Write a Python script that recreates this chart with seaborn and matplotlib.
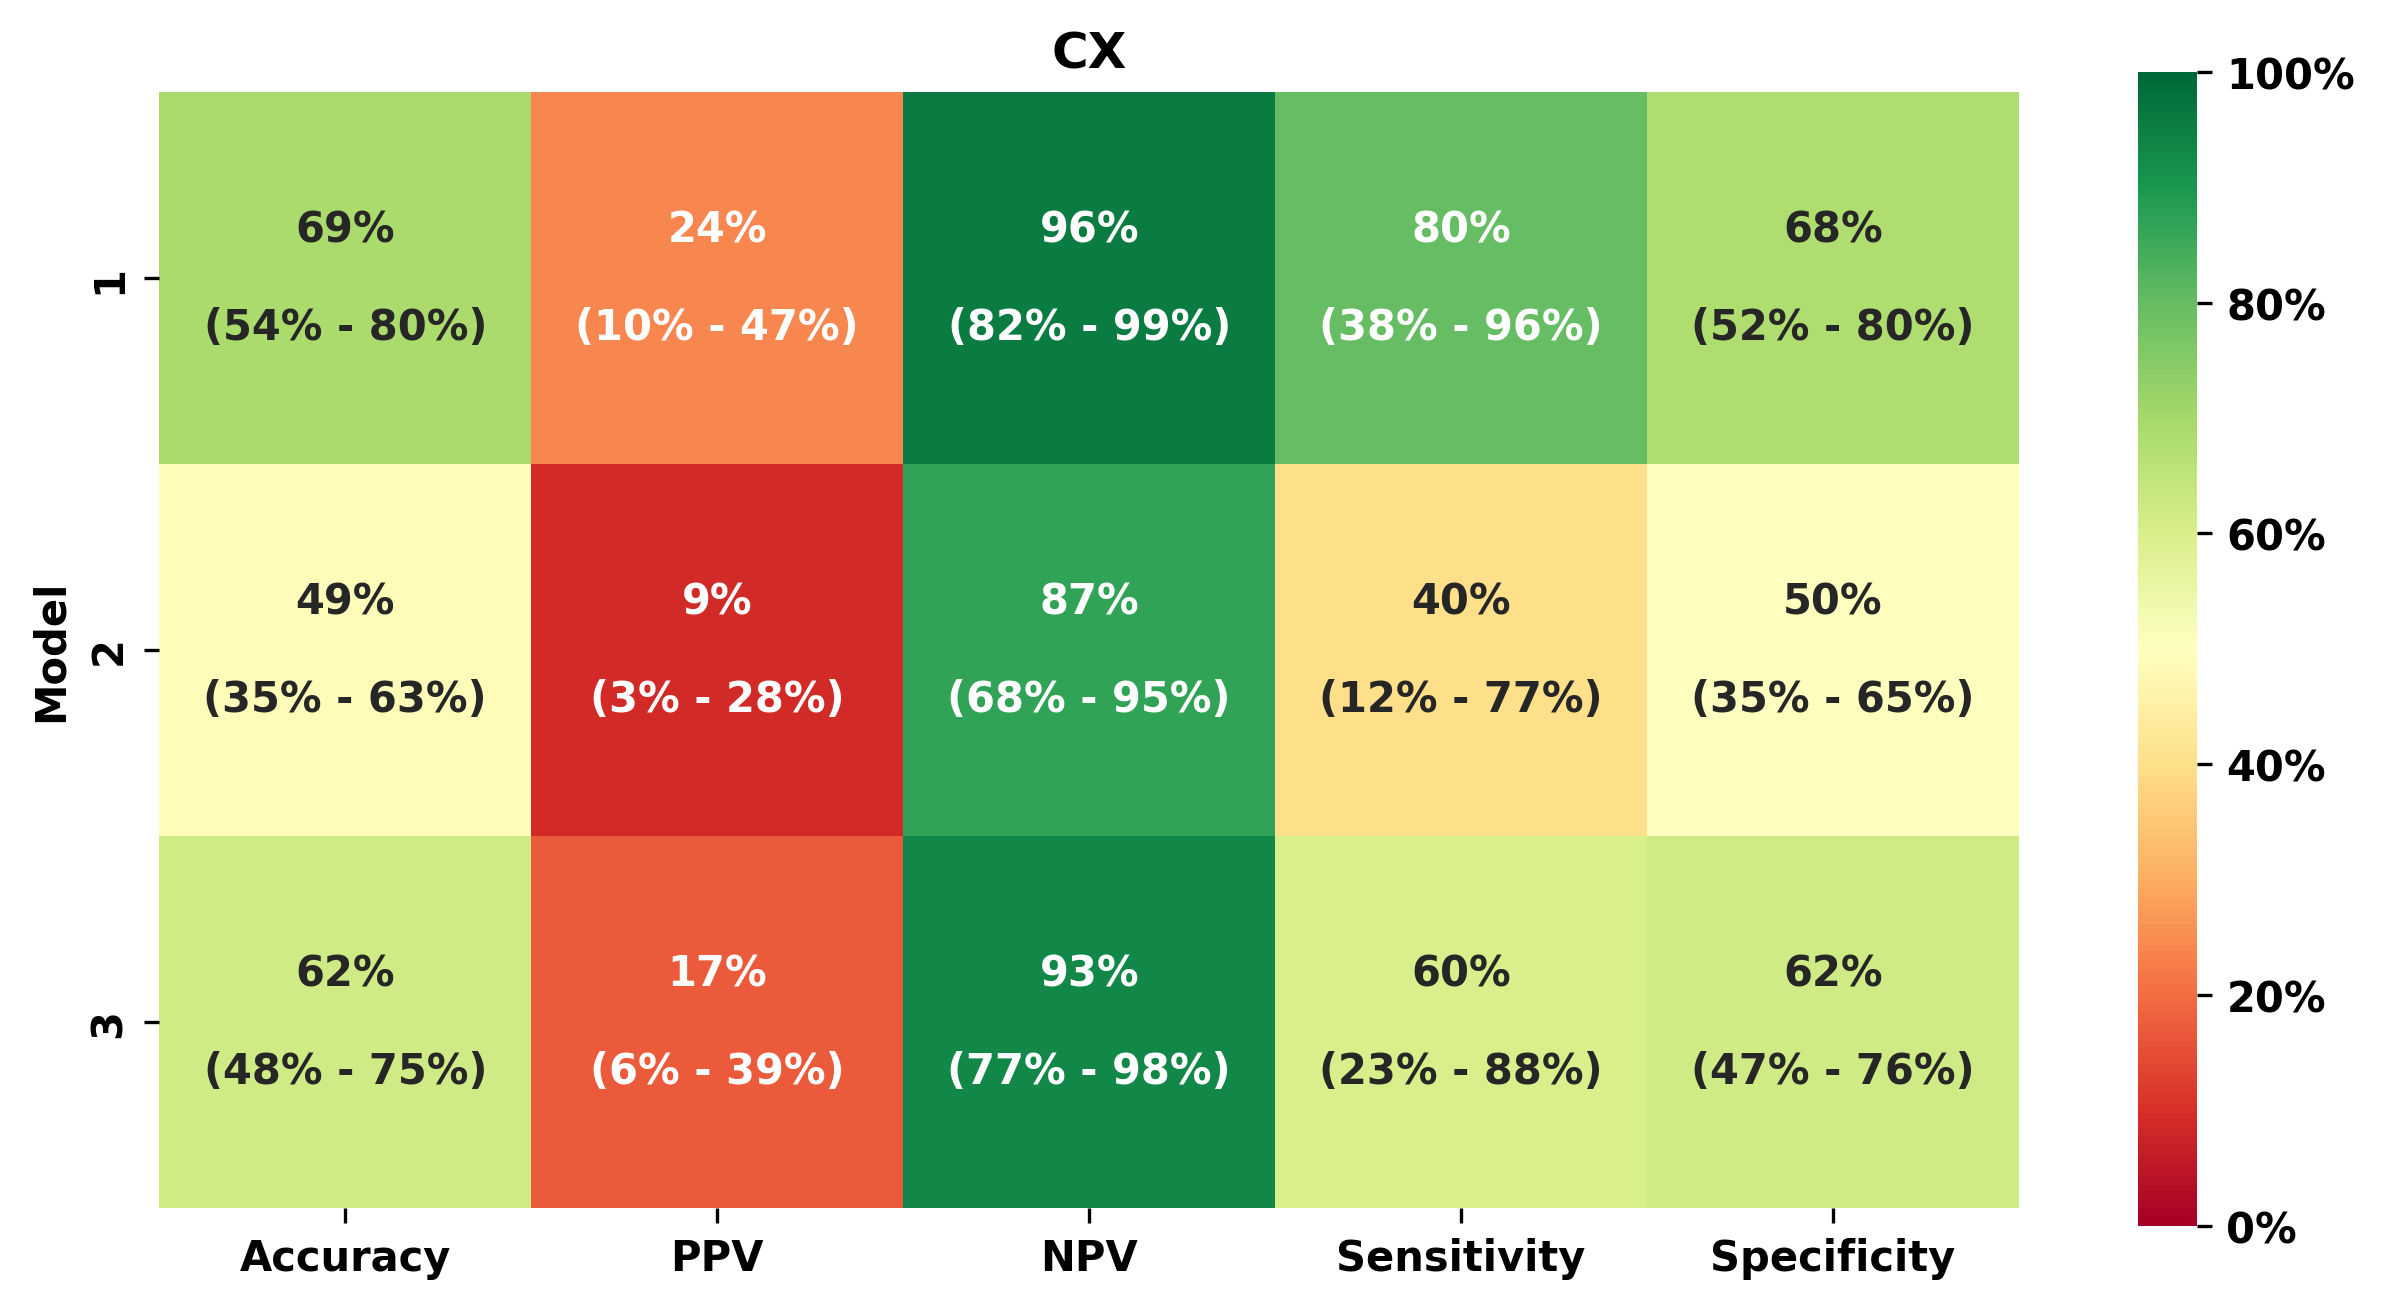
import numpy as np
import pandas as pd
import matplotlib
matplotlib.use("Agg")
import matplotlib.pyplot as plt
import seaborn as sns

metrics = ["Accuracy", "PPV", "NPV", "Sensitivity", "Specificity"]
models = ["1", "2", "3"]

# point estimates (%)
accuracy = [69, 49, 62]
ppv = [24, 9, 17]
npv = [96, 87, 93]
sensitivity = [80, 40, 60]
specificity = [68, 50, 62]

# confidence intervals (%)
accuracy_ci = [(54, 80), (35, 63), (48, 75)]
ppv_ci = [(10, 47), (3, 28), (6, 39)]
npv_ci = [(82, 99), (68, 95), (77, 98)]
sensitivity_ci = [(38, 96), (12, 77), (23, 88)]
specificity_ci = [(52, 80), (35, 65), (47, 76)]

values = pd.DataFrame(
    {"Accuracy": accuracy, "PPV": ppv, "NPV": npv,
     "Sensitivity": sensitivity, "Specificity": specificity},
    index=models)[metrics]
cis = {"Accuracy": accuracy_ci, "PPV": ppv_ci, "NPV": npv_ci,
       "Sensitivity": sensitivity_ci, "Specificity": specificity_ci}

labels = np.empty(values.shape, dtype=object)
for j, m in enumerate(metrics):
    for i in range(len(models)):
        lo, hi = cis[m][i]
        labels[i, j] = f"{values.iloc[i, j]}%\n\n({lo}% - {hi}%)"

plt.rcParams["font.family"] = ["DejaVu Sans"]
plt.rcParams["font.weight"] = "bold"
plt.rcParams["axes.labelweight"] = "bold"
plt.rcParams["axes.titleweight"] = "bold"

fig = plt.figure(figsize=(2381 / 300, 1310 / 300), dpi=300)
ax = fig.add_axes([0.0669, 0.0771, 0.848 - 0.0669, 0.929 - 0.0771])
cax = fig.add_axes([0.898, 0.0634, 0.0248, 0.881])

sns.heatmap(values, annot=labels, fmt="", cmap="RdYlGn", vmin=0, vmax=100,
            ax=ax, cbar_ax=cax,
            annot_kws={"fontsize": 10, "fontweight": "bold"})

ax.set_title("CX", fontweight="bold")
ax.set_ylabel("Model", fontweight="bold")
ax.set_xlabel("")
for t in ax.get_xticklabels() + ax.get_yticklabels():
    t.set_fontweight("bold")

cbar = ax.collections[0].colorbar
cbar.set_ticks([0, 20, 40, 60, 80, 100])
cbar.set_ticklabels([f"{v}%" for v in [0, 20, 40, 60, 80, 100]])
for t in cbar.ax.get_yticklabels():
    t.set_fontweight("bold")

fig.savefig("out.png", dpi=300)
